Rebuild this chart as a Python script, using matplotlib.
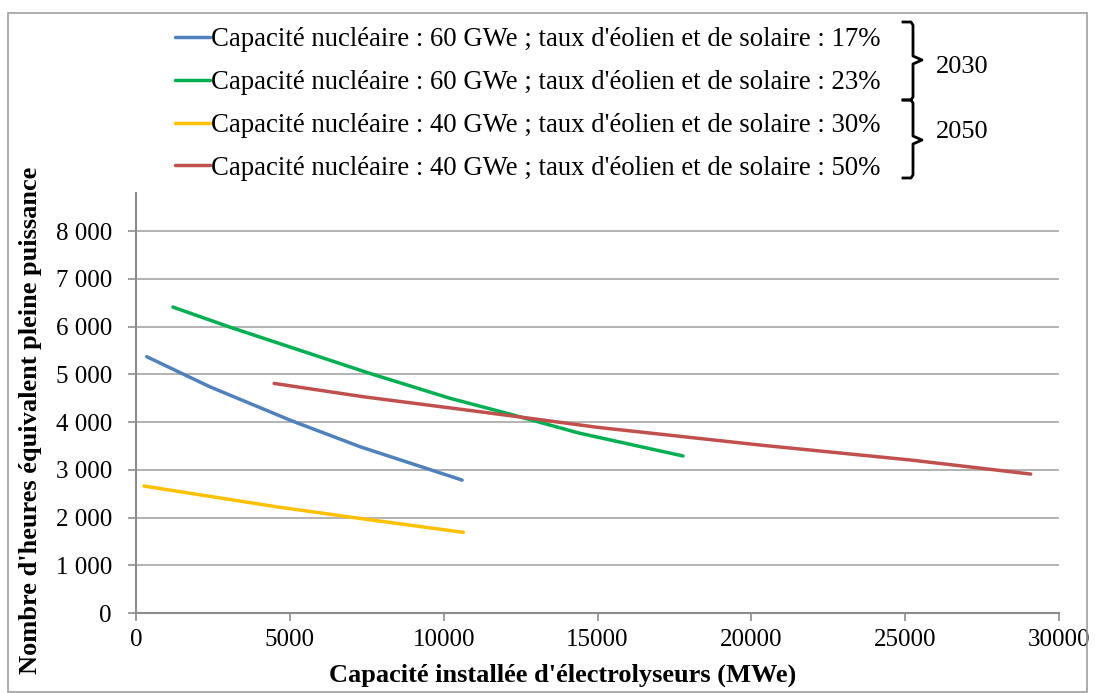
import matplotlib
matplotlib.use("Agg")
import matplotlib.pyplot as plt
from matplotlib.lines import Line2D
from matplotlib.patches import Rectangle
import numpy as np

# ---- data ----
labels = [
    "Capacité nucléaire : 60 GWe ; taux d'éolien et de solaire : 17%",
    "Capacité nucléaire : 60 GWe ; taux d'éolien et de solaire : 23%",
    "Capacité nucléaire : 40 GWe ; taux d'éolien et de solaire : 30%",
    "Capacité nucléaire : 40 GWe ; taux d'éolien et de solaire : 50%",
]
colors = ["#4F81BD", "#00B050", "#FFC000", "#C0504D"]

blue_x = [350, 2400, 5050, 7300, 10600]
blue_y = [5370, 4740, 4030, 3480, 2785]

green_x = [1200, 3050, 7600, 10200, 12200, 14400, 17780]
green_y = [6410, 5990, 5020, 4500, 4160, 3770, 3290]

yellow_x = [260, 4570, 7300, 10640]
yellow_y = [2660, 2225, 1980, 1690]

red_x = [4490, 7400, 11200, 12800, 15000, 20300, 25200, 29080]
red_y = [4810, 4530, 4215, 4080, 3890, 3518, 3204, 2911]

xticks = [0, 5000, 10000, 15000, 20000, 25000, 30000]
yticks = [0, 1000, 2000, 3000, 4000, 5000, 6000, 7000, 8000]
ytick_labels = ["0", "1 000", "2 000", "3 000", "4 000", "5 000", "6 000", "7 000", "8 000"]
xlabel = "Capacité installée d'électrolyseurs (MWe)"
ylabel = "Nombre d'heures équivalent pleine puissance"
groups = ["2030", "2050"]

# ---- figure ----
W, H = 1095, 693
plt.rcParams['font.family'] = ['Liberation Serif', 'DejaVu Serif']
fig = plt.figure(figsize=(W / 100, H / 100), dpi=100)

def px(x, y):
    return (x / W, 1 - y / H)

left, right, bottom, top = 136, 1059, 613, 193
ax = fig.add_axes([left / W, 1 - bottom / H, (right - left) / W, (bottom - top) / H])

series = [(blue_x, blue_y), (green_x, green_y), (yellow_x, yellow_y), (red_x, red_y)]
handles = []
for (xs, ys), c, lab in zip(series, colors, labels):
    h, = ax.plot(xs, ys, color=c, lw=2.5, solid_capstyle='round', label=lab)
    handles.append(h)

ax.set_xlim(0, 30000)
ax.set_ylim(0, 8800)
ax.set_xticks(xticks)
ax.set_xticklabels([str(v) for v in xticks])
ax.set_yticks(yticks)
ax.set_yticklabels(ytick_labels)
ax.grid(axis='y', color='#A6A6A6', lw=1.2)
ax.set_axisbelow(True)
for s in ['top', 'right']:
    ax.spines[s].set_visible(False)
for s in ['left', 'bottom']:
    ax.spines[s].set_color('#8C8C8C')
    ax.spines[s].set_linewidth(1.5)
ax.tick_params(axis='both', colors='#8C8C8C', length=5.8, width=1.2, labelsize=18,
               labelcolor='black')
ax.tick_params(axis='y', pad=11.5)
ax.tick_params(axis='x', pad=6)

ax.set_xlabel(xlabel, fontsize=19, fontweight='bold')
ax.set_ylabel(ylabel, fontsize=19, fontweight='bold')
ax.xaxis.set_label_coords((563 - left) / (right - left), -(664 - bottom) / (bottom - top))
ax.yaxis.set_label_coords(-(136 - 42) / (right - left), (bottom - 420) / (bottom - top))

# legend
leg = fig.legend(handles=handles, labels=labels, loc='upper left',
                 bbox_to_anchor=px(175, 27), frameon=False, fontsize=19.3,
                 handlelength=1.3, handletextpad=0.05, labelspacing=0.67,
                 borderaxespad=0, borderpad=0)

# braces
def brace(y0, y1, tip_y):
    xs = 913
    pts = [px(903, y0), px(911, y0), px(913, y0 + 3), px(xs, tip_y - 4), px(922, tip_y),
           px(xs, tip_y + 4), px(913, y1 - 3), px(911, y1), px(903, y1)]
    xx, yy = zip(*pts)
    fig.add_artist(Line2D(xx, yy, transform=fig.transFigure, color='black', lw=2))

brace(22, 100, 60)
brace(100, 178, 140)
fig.text(*px(936, 67), groups[0], fontsize=19, va='center', ha='left')
fig.text(*px(936, 132), groups[1], fontsize=19, va='center', ha='left')

# outer frame
fig.add_artist(Rectangle(px(8, 692), (1087 - 8) / W, (692 - 13) / H,
                         transform=fig.transFigure, fill=False, edgecolor='#A0A0A0', lw=1.2))

fig.savefig("out.png", dpi=100)
